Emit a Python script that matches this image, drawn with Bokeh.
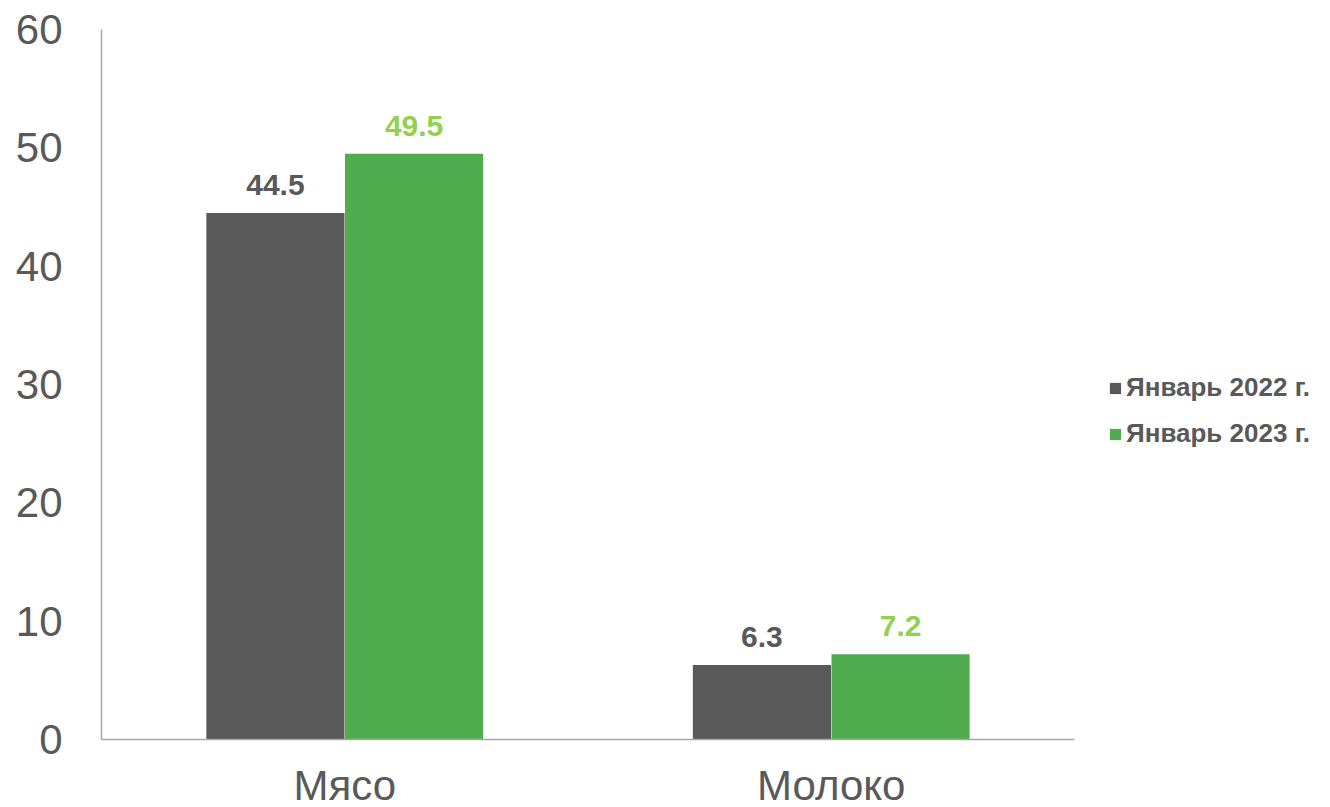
from bokeh.plotting import figure
from bokeh.models import ColumnDataSource, Range1d, FixedTicker, Legend, LegendItem
from bokeh.core.properties import value
from bokeh.embed import file_html
from bokeh.resources import INLINE

categories = ["Мясо", "Молоко"]
series_names = ["Январь 2022 г.", "Январь 2023 г."]
values_2022 = [44.5, 6.3]
values_2023 = [49.5, 7.2]
y_ticks = [0, 10, 20, 30, 40, 50, 60]

grey = "#595959"
green = "#4FAD50"
green_label = "#92D050"
font = "Liberation Sans"

n = len(categories)
centers = [i + 0.5 for i in range(n)]
off = 0.1425
bw = 0.284

src = ColumnDataSource(dict(
    x22=[c - off for c in centers],
    x23=[c + off for c in centers],
    v22=values_2022,
    v23=values_2023,
    l22=[str(v) for v in values_2022],
    l23=[str(v) for v in values_2023],
))

FRAME_W = 1213
CAT_W = 973  # pixel width of the category area (axis length)

p = figure(
    x_range=Range1d(0, n * FRAME_W / CAT_W),
    y_range=Range1d(0, 60),
    frame_width=FRAME_W, frame_height=710,
    output_backend="svg", toolbar_location=None,
    min_border_left=101, min_border_top=29, min_border_bottom=40, min_border_right=0,
)
p.outline_line_color = None
p.background_fill_color = "white"
p.border_fill_color = "white"
p.xgrid.grid_line_color = None
p.ygrid.grid_line_color = None

r1 = p.vbar(x="x22", top="v22", width=bw, bottom=0,
            source=src, fill_color=grey, line_color=None)
r2 = p.vbar(x="x23", top="v23", width=bw, bottom=0,
            source=src, fill_color=green, line_color=None)

p.text(x="x22", y="v22", text="l22", source=src,
       text_align="center", text_baseline="bottom", y_offset=-18,
       text_font=value(font), text_font_style="bold", text_font_size="30px", text_color=grey)
p.text(x="x23", y="v23", text="l23", source=src,
       text_align="center", text_baseline="bottom", y_offset=-18,
       text_font=value(font), text_font_style="bold", text_font_size="30px", text_color=green_label)

p.yaxis.ticker = FixedTicker(ticks=y_ticks)
p.xaxis.ticker = FixedTicker(ticks=centers)
p.xaxis.major_label_overrides = {c: cat for c, cat in zip(centers, categories)}
p.xaxis.bounds = (0, n)
for ax in (p.xaxis[0], p.yaxis[0]):
    ax.axis_line_color = "#A6A6A6"
    ax.axis_line_width = 1.5
    ax.major_tick_line_color = None
    ax.minor_tick_line_color = None
    ax.major_label_text_font = font
    ax.major_label_text_font_size = "42px"
    ax.major_label_text_color = grey
p.yaxis.major_label_standoff = 33
p.xaxis.major_label_standoff = 16

legend = Legend(
    items=[LegendItem(label=series_names[0], renderers=[r1]),
           LegendItem(label=series_names[1], renderers=[r2])],
    location=(1007, 290),
    orientation="vertical",
    border_line_color=None,
    background_fill_alpha=0,
    label_text_font=font,
    label_text_font_style="bold",
    label_text_font_size="26px",
    label_text_color=grey,
    glyph_width=14, glyph_height=14,
    label_standoff=4,
    spacing=15,
    padding=0, margin=0,
)
p.add_layout(legend, "center")

open("out.html", "w").write(file_html(p, INLINE))
